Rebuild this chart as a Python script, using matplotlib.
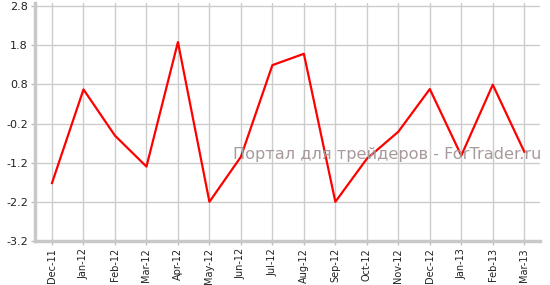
import matplotlib
matplotlib.use("Agg")
import matplotlib.pyplot as plt

months = ["Dec-11", "Jan-12", "Feb-12", "Mar-12", "Apr-12", "May-12", "Jun-12", "Jul-12",
          "Aug-12", "Sep-12", "Oct-12", "Nov-12", "Dec-12", "Jan-13", "Feb-13", "Mar-13"]
values = [-1.72, 0.67, -0.51, -1.30, 1.88, -2.20, -1.05, 1.29,
          1.58, -2.20, -1.10, -0.41, 0.68, -1.02, 0.79, -0.92]
yticks = [-3.2, -2.2, -1.2, -0.2, 0.8, 1.8, 2.8]

fig = plt.figure(figsize=(5.5, 2.85), dpi=100)
ax = fig.add_axes([35/550, 1 - 241/285, (540 - 35)/550, (241 - 3)/285])

x = list(range(len(months)))
ax.plot(x, values, color="#ff0000", linewidth=1.6, zorder=3)

ax.set_xlim(-0.54, 15.5)
ax.set_ylim(-3.2, 2.877)
ax.set_xticks(x)
ax.set_xticklabels(months, rotation=90, fontsize=7)
ax.set_yticks(yticks)
ax.set_yticklabels([f"{v:.1f}" for v in yticks], fontsize=8)

ax.grid(True, color="#cccccc", linewidth=1.0, zorder=0)
for s in ["top", "right"]:
    ax.spines[s].set_visible(False)
for s in ["left", "bottom"]:
    ax.spines[s].set_color("#c8c8c8")
    ax.spines[s].set_linewidth(2.5)
ax.tick_params(axis="both", colors="#c0c0c0", length=3, width=1, labelcolor="#222222", pad=2)

fig.text(233/550, 1 - 154/285, "Портал для трейдеров - ForTrader.ru", fontsize=11.6,
         color="#a89a9a", ha="left", va="center", zorder=2)

fig.savefig("out.png", dpi=100)
